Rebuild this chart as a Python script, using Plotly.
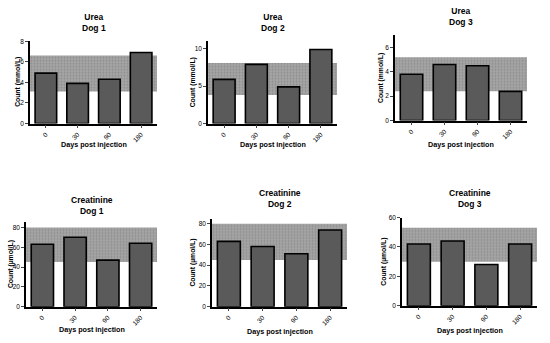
import plotly.graph_objects as go

W, H = 550, 343

days = ["0", "30", "90", "180"]

urea_dog1 = [4.9, 3.9, 4.3, 6.9]
urea_dog2 = [5.9, 7.9, 4.9, 9.9]
urea_dog3 = [3.8, 4.6, 4.5, 2.4]
creat_dog1 = [63, 70, 47, 64]
creat_dog2 = [63, 58, 51, 74]
creat_dog3 = [42, 44, 28, 42]

# reference ranges (low, high)
urea_ref1 = [3.1, 6.6]
urea_ref2 = [3.8, 8.1]
urea_ref3 = [2.4, 5.2]
creat_ref1 = [45, 80]
creat_ref2 = [45, 80]
creat_ref3 = [30, 53]

titles = ["Urea<br>Dog 1", "Urea<br>Dog 2", "Urea<br>Dog 3",
          "Creatinine<br>Dog 1", "Creatinine<br>Dog 2", "Creatinine<br>Dog 3"]
ytitles = ["Count (mmol/L)"] * 3 + ["Count (µmol/L)"] * 3
xtitle = "Days post injection"

values = [urea_dog1, urea_dog2, urea_dog3, creat_dog1, creat_dog2, creat_dog3]
refs = [urea_ref1, urea_ref2, urea_ref3, creat_ref1, creat_ref2, creat_ref3]
yranges = [[0, 8], [0, 11], [0, 7], [0, 85], [0, 85], [0, 60]]
ydticks = [2, 5, 2, 20, 20, 20]

# panel pixel boxes: x0, x1, ytop, ybottom
boxes = [
    (30, 157, 38, 122),
    (208, 337, 38, 122),
    (395, 527, 32, 119),
    (26, 157, 223, 309),
    (212, 347, 219, 309),
    (402, 537, 218, 308),
]
title_y = [19, 19, 12.5, 205.5, 198.5, 198.5]
xtitle_y = [143, 143, 143, 332, 334, 333]
ytitle_x = [18.5, 193, 381, 10.5, 193, 384]

FONT = "Arial, Liberation Sans, sans-serif"

fig = go.Figure()
layout = dict(
    width=W, height=H, margin=dict(l=0, r=0, t=0, b=0),
    plot_bgcolor="white", paper_bgcolor="white", showlegend=False,
    font=dict(family=FONT, color="black"), barmode="overlay",
)
annotations = []

for i in range(6):
    x0, x1, yt, yb = boxes[i]
    ax = "" if i == 0 else str(i + 1)
    xa, ya = "x" + ax, "y" + ax
    lo, hi = refs[i]
    # reference band
    fig.add_trace(go.Bar(
        x=[1.5], y=[hi - lo], base=[lo], width=[4],
        marker=dict(color="#9e9e9e", line=dict(width=0),
                    pattern=dict(shape=".", bgcolor="#a6a6a6", fgcolor="#747474",
                                 size=3, solidity=0.35)),
        xaxis=xa, yaxis=ya, hoverinfo="skip",
    ))
    fig.add_trace(go.Bar(
        x=[0, 1, 2, 3], y=values[i], width=0.68,
        marker=dict(color="#5a5a5a", line=dict(color="black", width=1.6)),
        xaxis=xa, yaxis=ya,
    ))
    layout["xaxis" + ax] = dict(
        domain=[x0 / W, x1 / W], anchor=ya, range=[-0.5, 3.5],
        tickmode="array", tickvals=[0, 1, 2, 3], ticktext=days,
        tickangle=-45, ticks="outside", ticklen=3, tickwidth=1.2,
        showline=True, linecolor="black", linewidth=1.5, showgrid=False,
        zeroline=False, tickfont=dict(size=6.5, family=FONT, color="black"),
    )
    layout["yaxis" + ax] = dict(
        domain=[1 - yb / H, 1 - yt / H], anchor=xa, range=yranges[i],
        dtick=ydticks[i], tick0=0, ticks="outside", ticklen=3, tickwidth=1.2,
        showline=True, linecolor="black", linewidth=1.5, showgrid=False,
        zeroline=False, tickfont=dict(size=6.5, family=FONT, color="black"),
    )
    cx = (x0 + x1) / 2
    annotations.append(dict(
        text="<b>" + titles[i].replace("<br>", "</b><br><b>") + "</b>",
        x=cx / W, y=1 - title_y[i] / H, xref="paper", yref="paper",
        xanchor="center", yanchor="middle", showarrow=False,
        font=dict(size=8.5, family=FONT, color="black"),
    ))
    annotations.append(dict(
        text="<b>" + xtitle + "</b>",
        x=cx / W, y=1 - xtitle_y[i] / H, xref="paper", yref="paper",
        xanchor="center", yanchor="middle", showarrow=False,
        font=dict(size=7.2, family=FONT, color="black"),
    ))
    annotations.append(dict(
        text="<b>" + ytitles[i] + "</b>", textangle=-90,
        x=ytitle_x[i] / W, y=1 - ((yt + yb) / 2) / H, xref="paper", yref="paper",
        xanchor="center", yanchor="middle", showarrow=False,
        font=dict(size=6.8, family=FONT, color="black"),
    ))

layout["annotations"] = annotations
fig.update_layout(**layout)
fig.write_html("out.html", config={"displayModeBar": False},
               post_script="document.body.style.margin='0';")
